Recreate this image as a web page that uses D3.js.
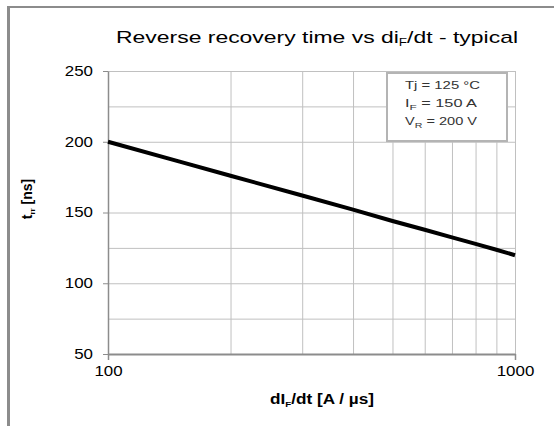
<!DOCTYPE html>
<html>
<head>
<meta charset="utf-8">
<style>
  body { margin: 0; background: #fff; }
  svg { display: block; font-family: "Liberation Sans", Arial, sans-serif; }
  .grid line { stroke: #c0c0c0; stroke-width: 1; }
  .grid .domain { display: none; }
  .axis .domain { stroke: #8c8c8c; }
  .axis line { stroke: #8c8c8c; }
  .axis text { fill: #000; font-size: 14px; }
</style>
</head>
<body>
<svg width="554" height="426"></svg>
<script src="https://d3js.org/d3.v7.min.js"></script>
<script>
// curve
var didt = [100, 150, 200, 300, 400, 500, 600, 700, 800, 900, 1000];
var trr  = [200, 186, 176, 162, 152, 144, 137.8, 132.4, 127.8, 123.7, 119.8];

var xTicks = [100, 1000];
var xGrid = [200, 300, 400, 500, 600, 700, 800, 900, 1000];
var yTicks = [50, 100, 150, 200, 250];
var yGrid = [75, 100, 125, 150, 200, 225, 250];

var legendLines = [
  ["Tj = 125 °C", ""],
  ["I", "F", " = 150 A"],
  ["V", "R", " = 200 V"]
];

var svg = d3.select("svg"),
    margin = {top: 71, right: 39, bottom: 72, left: 108},
    width = +svg.attr("width") - margin.left - margin.right,
    height = +svg.attr("height") - margin.top - margin.bottom,
    g = svg.append("g").attr("transform", "translate(" + margin.left + "," + margin.top + ")");

var x = d3.scaleLog().domain([100, 1000]).range([0, width]);
var y = d3.scaleLinear().domain([50, 250]).range([height, 0]);

// outer frame (left + top edges only)
svg.append("line").attr("x1", 8.5).attr("x2", 8.5).attr("y1", 6).attr("y2", 426)
    .attr("stroke", "#8c8c8c").attr("stroke-width", 3);
svg.append("line").attr("x1", 7).attr("x2", 554).attr("y1", 7).attr("y2", 7)
    .attr("stroke", "#8c8c8c").attr("stroke-width", 2);

// grid
g.append("g")
    .attr("class", "grid")
    .attr("transform", "translate(0," + height + ")")
    .call(d3.axisBottom(x).tickValues(xGrid).tickSize(-height).tickFormat(""));

g.append("g")
    .attr("class", "grid")
    .call(d3.axisLeft(y).tickValues(yGrid).tickSize(-width).tickFormat(""));

// axes
var yAxis = g.append("g")
    .attr("class", "axis")
    .call(d3.axisLeft(y).tickValues(yTicks).tickSize(5).tickSizeOuter(0).tickPadding(10));
yAxis.select(".domain").attr("stroke-width", 1.5);

var xAxis = g.append("g")
    .attr("class", "axis")
    .attr("transform", "translate(0," + height + ")")
    .call(d3.axisBottom(x).tickValues(xTicks).tickFormat(d3.format("d")).tickSize(6).tickSizeOuter(0).tickPadding(6));
xAxis.select(".domain").attr("stroke-width", 2);
xAxis.selectAll("line").attr("stroke-width", 1.5);

// the source image is stretched sideways, so widen the labels
g.selectAll(".axis text")
    .attr("lengthAdjust", "spacingAndGlyphs")
    .attr("textLength", function() { return this.textContent.length * 9.4; });

// curve
var line = d3.line()
    .x(function(d, i) { return x(didt[i]); })
    .y(function(d) { return y(d); });

g.append("path")
    .datum(trr)
    .attr("fill", "none")
    .attr("stroke", "#000")
    .attr("stroke-width", 4)
    .attr("stroke-linejoin", "round")
    .attr("d", line);

// conditions box
var box = g.append("g").attr("transform", "translate(" + (387 - margin.left) + "," + (73 - margin.top) + ")");
box.append("rect")
    .attr("width", 120).attr("height", 68)
    .attr("fill", "#fff")
    .attr("stroke", "#b4b4b4")
    .attr("stroke-width", 2);

legendLines.forEach(function(l, i) {
  var t = box.append("text")
      .attr("x", 18)
      .attr("y", 16 + i * 18)
      .attr("font-size", 11)
      .attr("fill", "#333")
      .attr("lengthAdjust", "spacingAndGlyphs")
      .attr("textLength", i === 0 ? 75 : 72);
  t.append("tspan").text(l[0]);
  if (l[1]) {
    t.append("tspan").attr("font-size", 8).attr("dy", 3).text(l[1]);
    t.append("tspan").attr("dy", -3).text(l[2]);
  }
});

// title
var title = svg.append("text")
    .attr("x", 317)
    .attr("y", 43)
    .attr("text-anchor", "middle")
    .attr("font-size", 17)
    .attr("fill", "#000")
    .attr("lengthAdjust", "spacingAndGlyphs")
    .attr("textLength", 402);
title.append("tspan").text("Reverse recovery time vs di");
title.append("tspan").attr("font-size", 10).attr("dy", 3).text("F");
title.append("tspan").attr("dy", -3).text("/dt - typical");

// axis titles
var xt = svg.append("text")
    .attr("x", 322)
    .attr("y", 404)
    .attr("text-anchor", "middle")
    .attr("font-size", 14)
    .attr("font-weight", "bold")
    .attr("lengthAdjust", "spacingAndGlyphs")
    .attr("textLength", 104);
xt.append("tspan").text("dI");
xt.append("tspan").attr("font-size", 8).attr("dy", 3).text("F");
xt.append("tspan").attr("dy", -3).text("/dt [A / µs]");

var yt = svg.append("text")
    .attr("transform", "translate(32,199) rotate(-90)")
    .attr("text-anchor", "middle")
    .attr("font-size", 14)
    .attr("font-weight", "bold");
yt.append("tspan").text("t");
yt.append("tspan").attr("font-size", 8).attr("dy", 3).text("rr");
yt.append("tspan").attr("dy", -3).text(" [ns]");
</script>
</body>
</html>
